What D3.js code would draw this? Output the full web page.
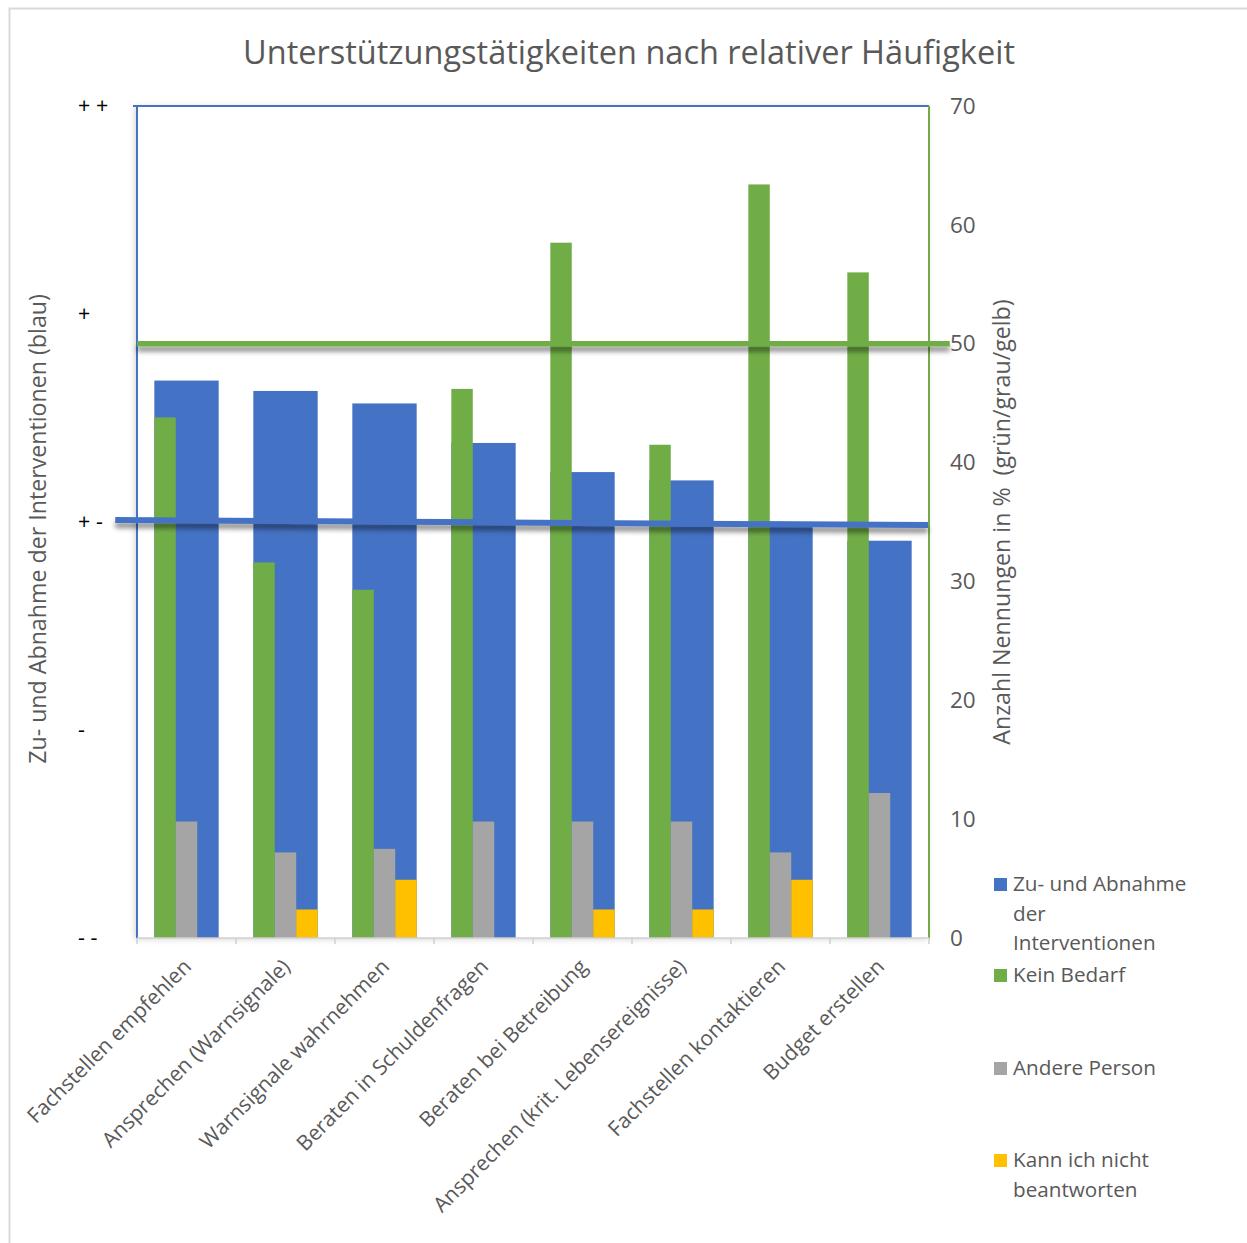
<!DOCTYPE html>
<html>
<head>
<meta charset="utf-8">
<script src="https://cdn.jsdelivr.net/npm/d3@7"></script>
<style>
  body { margin: 0; background: #fff; }
  text { font-family: "Open Sans", sans-serif; }
</style>
</head>
<body>
<svg id="chart" width="1247" height="1243"></svg>
<script>
// Activities and their values
const categories = [
  "Fachstellen empfehlen",
  "Ansprechen (Warnsignale)",
  "Warnsignale wahrnehmen",
  "Beraten in Schuldenfragen",
  "Beraten bei Betreibung",
  "Ansprechen (krit. Lebensereignisse)",
  "Fachstellen kontaktieren",
  "Budget erstellen"
];
// change in interventions, left axis (-2 = "- -" ... 2 = "+ +")
const changeValues = [0.68, 0.63, 0.57, 0.38, 0.24, 0.20, -0.01, -0.09];
// share of mentions in %, right axis
const noNeed       = [43.8, 31.6, 29.3, 46.2, 58.5, 41.5, 63.4, 56.0];
const otherPerson  = [9.8, 7.2, 7.5, 9.8, 9.8, 9.8, 7.2, 12.2];
const cannotAnswer = [0, 2.4, 4.9, 0, 2.4, 2.4, 4.9, 0];

const leftTickValues = [-2, -1, 0, 1, 2];
const leftTickLabels = ["- -", "-", "+ -", "+", "+ +"];
const rightTickValues = [0, 10, 20, 30, 40, 50, 60, 70];

// reference lines: 50 % on the right axis, neutral change on the left axis
const percentRefLine = [{ pos: 0, v: 50 }, { pos: 8.21, v: 50 }];
const changeRefLine  = [{ pos: -0.22, v: 0.01 }, { pos: 7.99, v: -0.015 }];

const colors = { blue: "#4472C4", green: "#70AD47", gray: "#A5A5A5", yellow: "#FFC000" };

const svg = d3.select("#chart");
const plotLeft = 137, plotRight = 929, plotTop = 106, plotBottom = 938;
const textColor = "#595959";

// shadows (user-space regions so that perfectly horizontal lines still render)
const defs = svg.append("defs");
const shadow = defs.append("filter").attr("id", "lineShadow")
  .attr("filterUnits", "userSpaceOnUse")
  .attr("x", 0).attr("y", 0).attr("width", 1247).attr("height", 1243);
shadow.append("feDropShadow").attr("dx", 0).attr("dy", 5).attr("stdDeviation", 2.5)
  .attr("flood-color", "#000").attr("flood-opacity", 0.45);
const frameShadow = defs.append("filter").attr("id", "frameShadow")
  .attr("x", "-5%").attr("y", "-5%").attr("width", "110%").attr("height", "110%");
frameShadow.append("feDropShadow").attr("dx", -2).attr("dy", 1).attr("stdDeviation", 3)
  .attr("flood-color", "#000").attr("flood-opacity", 0.18);

// outer chart border
svg.append("rect").attr("x", 9.5).attr("y", 8.5).attr("width", 1260).attr("height", 1260)
  .attr("fill", "#fff").attr("stroke", "#d9d9d9").attr("stroke-width", 2);

// scales
const x = d3.scaleBand().domain(categories).range([plotLeft, plotRight]).paddingInner(0.35).paddingOuter(0.175);
const xSub = d3.scaleBand().domain([0, 1, 2]).range([0, x.bandwidth()]);
const xPos = d3.scaleLinear().domain([0, categories.length]).range([plotLeft, plotRight]);
const yLeft = d3.scaleLinear().domain([-2, 2]).range([plotBottom, plotTop]);
const yRight = d3.scaleLinear().domain([0, 70]).range([plotBottom, plotTop]);

// plot frame
svg.append("rect").attr("x", plotLeft).attr("y", plotTop)
  .attr("width", plotRight - plotLeft).attr("height", plotBottom - plotTop)
  .attr("fill", "#fff").attr("filter", "url(#frameShadow)");

// title
svg.append("text").attr("x", 629).attr("y", 64).attr("text-anchor", "middle")
  .attr("font-size", 32.5).attr("fill", textColor)
  .text("Unterstützungstätigkeiten nach relativer Häufigkeit");

// blue bars (left axis), behind
svg.append("g").selectAll("rect").data(categories).join("rect")
  .attr("x", d => x(d)).attr("width", x.bandwidth())
  .attr("y", (d, i) => yLeft(changeValues[i]))
  .attr("height", (d, i) => yLeft(-2) - yLeft(changeValues[i]))
  .attr("fill", colors.blue);

// percent bars (right axis)
const pctSeries = [
  { values: noNeed, color: colors.green },
  { values: otherPerson, color: colors.gray },
  { values: cannotAnswer, color: colors.yellow }
];
pctSeries.forEach((s, si) => {
  svg.append("g").selectAll("rect").data(categories).join("rect")
    .attr("x", d => x(d) + xSub(si)).attr("width", xSub.bandwidth())
    .attr("y", (d, i) => yRight(s.values[i]))
    .attr("height", (d, i) => yRight(0) - yRight(s.values[i]))
    .attr("fill", s.color);
});

// axis lines
svg.append("line").attr("x1", plotLeft - 4).attr("x2", plotRight).attr("y1", plotTop).attr("y2", plotTop)
  .attr("stroke", colors.blue).attr("stroke-width", 2);
svg.append("line").attr("x1", plotLeft).attr("x2", plotLeft).attr("y1", plotTop).attr("y2", plotBottom)
  .attr("stroke", colors.blue).attr("stroke-width", 2);
svg.append("line").attr("x1", plotRight).attr("x2", plotRight).attr("y1", plotTop).attr("y2", plotBottom)
  .attr("stroke", colors.green).attr("stroke-width", 2);

// category axis with ticks at the category boundaries
svg.append("line").attr("x1", plotLeft).attr("x2", plotRight).attr("y1", plotBottom).attr("y2", plotBottom)
  .attr("stroke", "#d0d0d0").attr("stroke-width", 1.5);
svg.append("g").selectAll("line").data(d3.range(categories.length + 1)).join("line")
  .attr("x1", d => xPos(d)).attr("x2", d => xPos(d))
  .attr("y1", plotBottom).attr("y2", plotBottom + 6)
  .attr("stroke", "#d0d0d0").attr("stroke-width", 1.5);

svg.append("g").selectAll("text").data(categories).join("text")
  .attr("transform", d => `translate(${x(d) + x.bandwidth() / 2 + 6},${plotBottom + 30}) rotate(-45)`)
  .attr("text-anchor", "end").attr("font-size", 21).attr("fill", textColor)
  .text(d => d);

// left axis labels
const leftAxis = d3.axisLeft(yLeft).tickValues(leftTickValues).tickSize(0)
  .tickFormat((d, i) => leftTickLabels[i]);
const gl = svg.append("g").attr("transform", `translate(${plotLeft},0)`).call(leftAxis);
gl.select(".domain").remove();
gl.selectAll("text").attr("x", 78 - plotLeft).attr("text-anchor", "start")
  .attr("font-size", 21.5).attr("fill", "#000").style("font-family", "'Open Sans', sans-serif");

// right axis labels
const rightAxis = d3.axisRight(yRight).tickValues(rightTickValues).tickSize(0).tickPadding(21);
const gr = svg.append("g").attr("transform", `translate(${plotRight},0)`).call(rightAxis);
gr.select(".domain").remove();
gr.selectAll("text").attr("font-size", 22.5).attr("fill", textColor)
  .style("font-family", "'Open Sans', sans-serif");

// axis titles
svg.append("text").attr("transform", "translate(46,529) rotate(-90)").attr("text-anchor", "middle")
  .attr("font-size", 23.2).attr("fill", textColor)
  .text("Zu- und Abnahme der Interventionen (blau)");
svg.append("text").attr("transform", "translate(1010,522) rotate(-90)").attr("text-anchor", "middle")
  .attr("font-size", 23.2).attr("fill", textColor).style("white-space", "pre")
  .text("Anzahl Nennungen in %  (grün/grau/gelb)");

// reference lines with shadow
const refLine = (yScale) => d3.line().x(d => xPos(d.pos)).y(d => yScale(d.v));
svg.append("path").datum(percentRefLine).attr("d", refLine(yRight))
  .attr("stroke", colors.green).attr("stroke-width", 5.5).attr("fill", "none")
  .attr("filter", "url(#lineShadow)");
svg.append("path").datum(changeRefLine).attr("d", refLine(yLeft))
  .attr("stroke", colors.blue).attr("stroke-width", 6).attr("fill", "none")
  .attr("filter", "url(#lineShadow)");

// legend
const legend = [
  { lines: ["Zu- und Abnahme", "der", "Interventionen"], color: colors.blue, y: 891 },
  { lines: ["Kein Bedarf"], color: colors.green, y: 982 },
  { lines: ["Andere Person"], color: colors.gray, y: 1075 },
  { lines: ["Kann ich nicht", "beantworten"], color: colors.yellow, y: 1167 }
];
const lg = svg.append("g").selectAll("g").data(legend).join("g")
  .attr("transform", d => `translate(994,${d.y})`);
lg.append("rect").attr("x", 0).attr("y", -13).attr("width", 13).attr("height", 13).attr("fill", d => d.color);
lg.append("text").attr("x", 19).attr("font-size", 20.7).attr("fill", textColor)
  .selectAll("tspan").data(d => d.lines).join("tspan")
  .attr("x", 19).attr("dy", (d, i) => i === 0 ? 0 : 29.5).text(d => d);
</script>
</body>
</html>
